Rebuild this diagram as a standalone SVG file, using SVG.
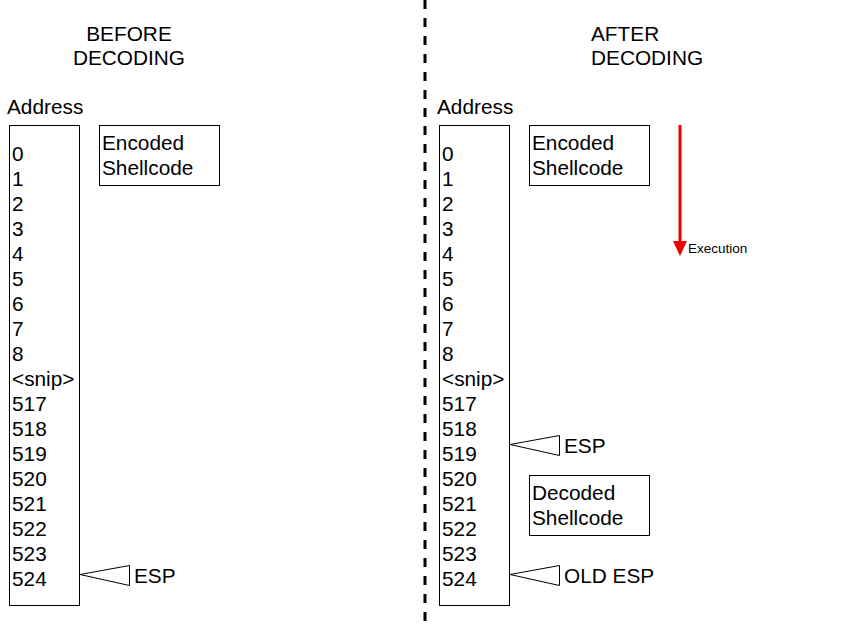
<svg xmlns="http://www.w3.org/2000/svg" width="848" height="625" viewBox="0 0 848 625">
<style>
text{font-family:"Liberation Sans",Arial,sans-serif;font-size:20.8px;fill:#000}
.box{fill:#fff;stroke:#000;stroke-width:1}
.tri{fill:#fff;stroke:#000;stroke-width:1}
text.small{font-size:13.5px}
</style>
<rect width="848" height="625" fill="#fff"/>
<g id="connectors">
<line x1="425" y1="0" x2="425" y2="625" stroke="#000" stroke-width="3" stroke-dasharray="9,9"/>
<line x1="680" y1="125" x2="680" y2="242" stroke="#e00" stroke-width="3"/>
<path d="M673,241 L687,241 L680,256 Z" fill="#e00"/>
<text class="small" x="688" y="253">Execution</text>
</g>
<g id="title-before"><text x="129" y="41" text-anchor="middle">BEFORE</text><text x="129" y="65" text-anchor="middle">DECODING</text></g>
<g id="title-after"><text x="591" y="41">AFTER</text><text x="591" y="65">DECODING</text></g>
<g id="stack-before">
<text x="7" y="114">Address</text>
<rect class="box" x="9.5" y="125.5" width="70" height="480"/>
<text x="12" y="161">0</text><text x="12" y="186">1</text><text x="12" y="211">2</text><text x="12" y="236">3</text><text x="12" y="261">4</text><text x="12" y="286">5</text><text x="12" y="311">6</text><text x="12" y="336">7</text><text x="12" y="361">8</text><text x="12" y="386">&lt;snip&gt;</text><text x="12" y="411">517</text><text x="12" y="436">518</text><text x="12" y="461">519</text><text x="12" y="486">520</text><text x="12" y="511">521</text><text x="12" y="536">522</text><text x="12" y="561">523</text><text x="12" y="586">524</text>
</g>
<g id="encoded-before"><rect class="box" x="99.5" y="125.5" width="120" height="60"/><text x="102" y="150">Encoded</text><text x="102" y="175">Shellcode</text></g>
<g id="esp-before"><polygon class="tri" points="80,574.5 129.5,565.5 129.5,585.5"/><text x="134" y="583">ESP</text></g>
<g id="stack-after">
<text x="437" y="114">Address</text>
<rect class="box" x="439.5" y="125.5" width="70" height="480"/>
<text x="442" y="161">0</text><text x="442" y="186">1</text><text x="442" y="211">2</text><text x="442" y="236">3</text><text x="442" y="261">4</text><text x="442" y="286">5</text><text x="442" y="311">6</text><text x="442" y="336">7</text><text x="442" y="361">8</text><text x="442" y="386">&lt;snip&gt;</text><text x="442" y="411">517</text><text x="442" y="436">518</text><text x="442" y="461">519</text><text x="442" y="486">520</text><text x="442" y="511">521</text><text x="442" y="536">522</text><text x="442" y="561">523</text><text x="442" y="586">524</text>
</g>
<g id="encoded-after"><rect class="box" x="529.5" y="125.5" width="120" height="60"/><text x="532" y="150">Encoded</text><text x="532" y="175">Shellcode</text></g>
<g id="decoded-after"><rect class="box" x="529.5" y="475.5" width="120" height="60"/><text x="532" y="500">Decoded</text><text x="532" y="525">Shellcode</text></g>
<g id="esp-after"><polygon class="tri" points="510,444.5 559.5,435.5 559.5,455.5"/><text x="564" y="453">ESP</text></g>
<g id="old-esp"><polygon class="tri" points="510,574.5 559.5,565.5 559.5,585.5"/><text x="564" y="583">OLD ESP</text></g>
</svg>
